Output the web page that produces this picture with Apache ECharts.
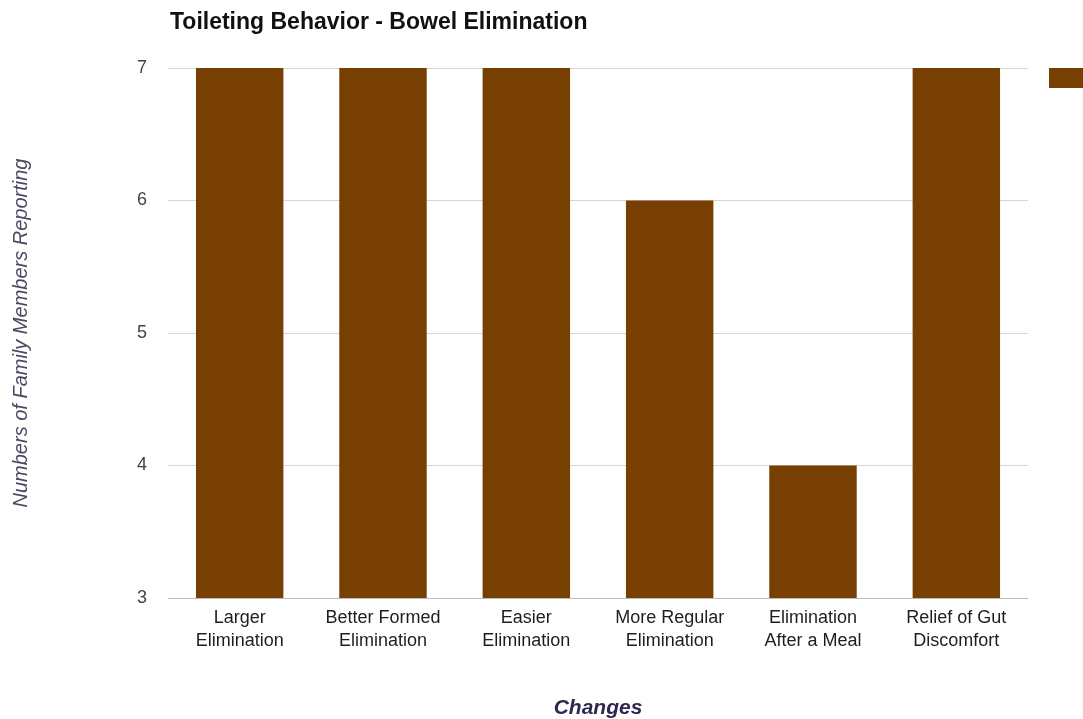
<!DOCTYPE html>
<html>
<head>
<meta charset="utf-8">
<script src="https://cdn.jsdelivr.net/npm/echarts@6/dist/echarts.min.js"></script>
<style>
  html, body { margin: 0; padding: 0; background: #fff; }
  #chart { width: 1083px; height: 719px; }
</style>
</head>
<body>
<div id="chart"></div>
<script>
// Bowel elimination changes reported by family members
const categories = [
  'Larger\nElimination',
  'Better Formed\nElimination',
  'Easier\nElimination',
  'More Regular\nElimination',
  'Elimination\nAfter a Meal',
  'Relief of Gut\nDiscomfort'
];
const reportCounts = [7, 7, 7, 6, 4, 7];
const yTicks = [3, 4, 5, 6, 7];

const font = '"Liberation Sans", Arial, sans-serif';
const chart = echarts.init(document.getElementById('chart'));

chart.setOption({
  animation: false,
  title: {
    text: 'Toileting Behavior - Bowel Elimination',
    left: 170,
    top: 11,
    padding: 0,
    textStyle: { fontFamily: font, fontSize: 23, fontWeight: 'bold', color: '#111' }
  },
  legend: {
    left: 1049,
    top: 68,
    padding: 0,
    icon: 'rect',
    itemWidth: 40,
    itemHeight: 20,
    itemGap: 0,
    textStyle: { fontFamily: font, fontSize: 14, color: '#222' },
    data: ['Family Members']
  },
  grid: { left: 168, right: 55, top: 68, bottom: 121, outerBoundsMode: 'none' },
  xAxis: {
    type: 'category',
    data: categories,
    name: 'Changes',
    nameLocation: 'middle',
    nameGap: 100,
    nameTextStyle: { fontFamily: font, fontSize: 21, fontWeight: 'bold', fontStyle: 'italic', color: '#2b2a4c' },
    axisLine: { show: true, lineStyle: { color: '#bdbdbd', width: 1 } },
    axisTick: { show: false },
    axisLabel: { fontFamily: font, fontSize: 18, color: '#1e1e1e', lineHeight: 23, margin: 9, interval: 0 }
  },
  yAxis: {
    type: 'value',
    min: yTicks[0],
    max: yTicks[yTicks.length - 1],
    interval: 1,
    name: 'Numbers of Family Members Reporting',
    nameLocation: 'middle',
    nameGap: 137,
    nameRotate: 90,
    nameTextStyle: { fontFamily: font, fontSize: 20, fontStyle: 'italic', color: '#4a4860' },
    axisLine: { show: false },
    axisTick: { show: false },
    axisLabel: { fontFamily: font, fontSize: 18, color: '#444', margin: 21 },
    splitLine: { lineStyle: { color: '#d6d6d6', width: 1 } }
  },
  series: [{
    name: 'Family Members',
    type: 'bar',
    data: reportCounts,
    barWidth: '61%',
    itemStyle: { color: '#773f02' }
  }]
});
</script>
</body>
</html>
